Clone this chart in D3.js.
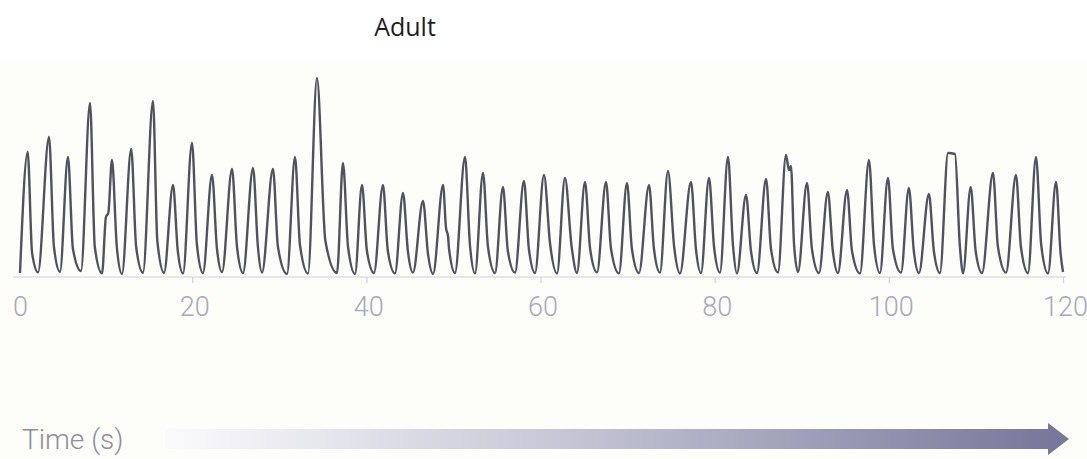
<!DOCTYPE html>
<html>
<head>
<meta charset="utf-8">
<script src="https://cdn.jsdelivr.net/npm/d3@7"></script>
<style>
  html, body { margin: 0; padding: 0; background: #ffffff; }
  svg { display: block; }
</style>
</head>
<body>
<svg id="chart" width="1087" height="459"></svg>
<script>
// beat-by-beat readings (time in s, value in relative units 0-100)
const troughT = [0.23, 2.30, 4.82, 7.23, 9.65, 11.94, 14.35, 16.77, 18.95, 21.24,
  23.43, 25.84, 28.02, 30.89, 33.30, 36.63, 38.70, 40.88, 43.29, 45.36,
  47.66, 50.18, 52.48, 54.78, 57.07, 59.37, 61.90, 64.19, 66.49, 69.01,
  71.31, 73.72, 76.02, 78.43, 80.61, 82.56, 84.86, 87.27, 89.57, 91.98,
  94.16, 96.69, 98.98, 101.40, 103.46, 105.87, 108.52, 110.70, 113.46, 115.98,
  118.28, 120.0]
const troughV = [2, 2.3, 2.6, 3, 1.8, 1.5, 2.1, 2.1, 1.8, 2,
  2.5, 2, 2.2, 1.5, 1.8, 2, 1.5, 2, 1.8, 2.2,
  1.5, 2, 1.8, 2, 2.2, 2, 1.8, 2, 2.3, 1.8,
  2, 2.2, 1.8, 2, 2.2, 1.8, 2, 2.3, 2.5, 2,
  2, 1.8, 2, 2.2, 2, 2, 1.8, 2, 2.2, 2,
  1.8, 2.5]

const peakT = [1.11, 3.56, 5.74, 8.27, 10.79, 13.00, 15.50, 17.80, 19.98, 22.28,
  24.58, 26.99, 29.28, 31.81, 34.33, 37.32, 39.50, 41.91, 44.21, 46.51,
  48.81, 51.33, 53.40, 55.69, 58.10, 60.40, 62.81, 65.11, 67.52, 69.93,
  72.46, 74.64, 77.28, 79.35, 81.53, 83.60, 85.90, 88.19, 90.60, 93.00,
  95.20, 97.72, 99.90, 102.30, 104.60, 106.80, 109.40, 111.96, 114.60, 116.90,
  119.20]
const peakV = [62.5, 70, 60, 87, 58.5, 64, 88, 46, 67, 51,
  54, 54.5, 54, 60, 99.5, 57, 46, 46, 42, 38,
  46, 60, 52, 45, 48, 51, 49.5, 47.5, 47.5, 47,
  46, 53, 47.5, 49.5, 60, 41, 49, 61, 47, 42.5,
  43.5, 58.5, 49.5, 44.5, 41.5, 62, 45, 52, 51, 60,
  47.5]

// where the fall after each peak starts to flatten out
const kneeT = [1.62, 4.13, 6.31, 8.82, 11.35, 13.57, 16.00, 18.35, 20.55, 22.85,
  25.15, 27.55, 29.85, 32.38, 35.30, 37.90, 40.07, 42.47, 44.77, 47.07,
  49.50, 51.90, 53.97, 56.25, 58.67, 61.09, 63.58, 65.70, 68.10, 70.50,
  73.03, 75.35, 77.85, 79.93, 82.10, 84.17, 86.47, 89.12, 91.17, 93.57,
  95.77, 98.30, 100.47, 102.87, 105.17, 108.15, 109.97, 112.53, 115.17, 117.50,
  119.72]
const kneeV = [12, 15, 14, 15, 15, 15, 18, 13, 16, 14,
  15, 15, 15, 16, 18, 15, 13, 13, 13, 12,
  14, 16, 15, 13, 14, 17, 15, 14, 14, 14,
  14, 15, 14, 15, 16, 13, 14, 16, 14, 13,
  13, 16, 14, 13, 13, 16, 13, 15, 15, 16,
  12]

// small shoulders / notches
const notchT = [10.10, 10.37, 49.15, 49.38, 88.53, 88.76, 107.6]
const notchV = [30, 32, 24.5, 20.5, 53.5, 55.5, 61.5]

const tickValues = [0, 20, 40, 60, 80, 100, 120]
const title = "Adult"
const axisTitle = "Time (s)"

const svg = d3.select("#chart")
const width = 1087, height = 459

svg.append("rect")
    .attr("x", 0).attr("y", 60)
    .attr("width", width).attr("height", height - 60)
    .attr("fill", "#fdfdfa")

svg.append("text")
    .attr("x", 405).attr("y", 36)
    .attr("text-anchor", "middle")
    .style("font-family", "'Open Sans', sans-serif")
    .style("font-size", "25px")
    .attr("fill", "#1e1e1e")
    .text(title)

const x = d3.scaleLinear().domain([0, 120]).range([18, 1063])
const y = d3.scaleLinear().domain([0, 100]).range([277, 77])

const points = []
troughT.forEach((t, i) => points.push([t, troughV[i]]))
peakT.forEach((t, i) => points.push([t, peakV[i]]))
kneeT.forEach((t, i) => points.push([t, kneeV[i]]))
notchT.forEach((t, i) => points.push([t, notchV[i]]))
points.sort((a, b) => a[0] - b[0])

// axis
const axis = svg.append("g")
    .attr("transform", `translate(0,${y(0)})`)
    .call(d3.axisBottom(x).tickValues(tickValues).tickSize(6).tickFormat(d3.format("d")))

axis.select(".domain").remove()
axis.append("line")
    .attr("x1", 13).attr("x2", 1066)
    .attr("stroke", "#d2d2da").attr("stroke-width", 1.2)

axis.selectAll(".tick line")
    .attr("stroke", "#d2d2da")
    .attr("stroke-width", 1.2)
    .attr("opacity", d => d === 0 ? 0 : 1)

axis.selectAll(".tick text")
    .attr("y", 39)
    .attr("dy", null)
    .attr("dx", 2)
    .attr("fill", "#a8a8bb")
    .style("font-family", "Roboto, 'Liberation Sans', sans-serif")
    .style("font-weight", 300)
    .style("font-size", "27px")

const line = d3.line()
    .x(d => x(d[0]))
    .y(d => y(d[1]))
    .curve(d3.curveMonotoneX)

svg.append("path")
    .datum(points)
    .attr("d", line)
    .attr("fill", "none")
    .attr("stroke", "#52525f")
    .attr("stroke-width", 2.4)
    .attr("stroke-linejoin", "round")

// time arrow
const defs = svg.append("defs")
const grad = defs.append("linearGradient")
    .attr("id", "timeGrad")
    .attr("gradientUnits", "userSpaceOnUse")
    .attr("x1", 165).attr("x2", 1050)
    .attr("y1", 0).attr("y2", 0)
grad.append("stop").attr("offset", "0%").attr("stop-color", "#fbfbfd")
grad.append("stop").attr("offset", "45%").attr("stop-color", "#c6c6d6")
grad.append("stop").attr("offset", "100%").attr("stop-color", "#77789b")

svg.append("rect")
    .attr("x", 165).attr("y", 429)
    .attr("width", 885).attr("height", 20)
    .attr("fill", "url(#timeGrad)")

svg.append("path")
    .attr("d", "M1048,423 L1069,439 L1048,455 Z")
    .attr("fill", "#77789b")

svg.append("text")
    .attr("x", 22).attr("y", 449)
    .attr("fill", "#8e8e9c")
    .style("font-family", "Roboto, 'Liberation Sans', sans-serif")
    .style("font-weight", 300)
    .style("font-size", "28px")
    .text(axisTitle)
</script>
</body>
</html>
